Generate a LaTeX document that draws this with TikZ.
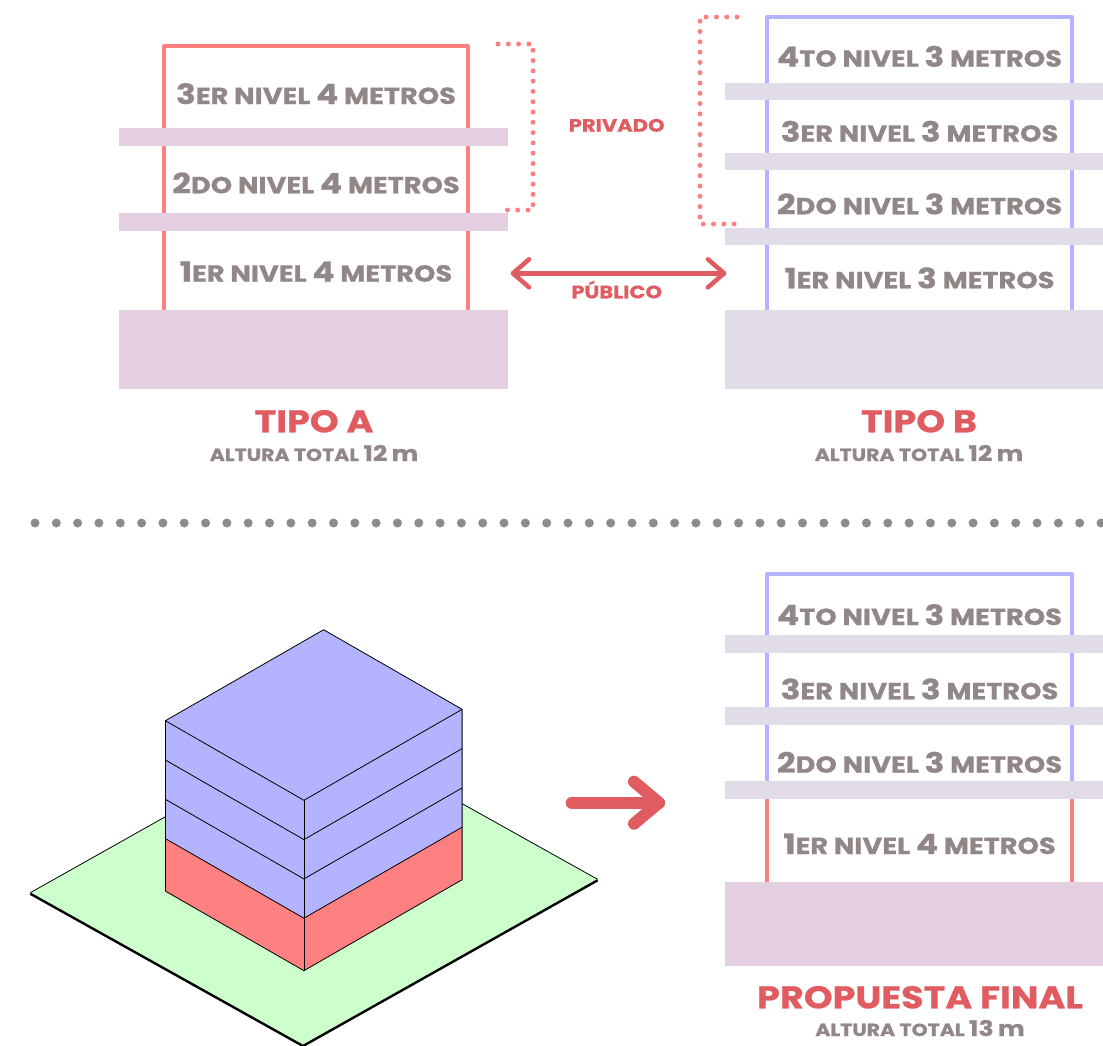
\documentclass[tikz,border=0pt]{standalone}
\usepackage{fontspec}
\setmainfont{Poppins}
\newfontfamily\lblfont{Poppins Bold}[FakeStretch=1.17,FakeBold=0.7]
\usetikzlibrary{calc}

\definecolor{txtgray}{HTML}{928787}
\definecolor{titlered}{HTML}{E05C61}
\definecolor{linered}{HTML}{FF8080}
\definecolor{lineblue}{HTML}{B3B3FF}
\definecolor{slabpink}{HTML}{E4CFE0}
\definecolor{slablav}{HTML}{E2DBE8}
\definecolor{sepgray}{HTML}{8C8C8C}
\definecolor{groundgreen}{HTML}{CCFFCC}
\definecolor{massblue}{HTML}{B3B3FF}
\definecolor{massred}{HTML}{FF8080}

% digits at full size, letters as small capitals
\newcommand\fullc[1]{{\fontsize{28}{28}\selectfont #1}}
\newcommand\fullt[1]{{\fontsize{21.5}{21.5}\selectfont #1}}

\tikzset{
  levellabel/.style={anchor=base, inner sep=0pt, text=txtgray,
    font=\lblfont\fontsize{23.3}{23.3}\selectfont},
  titlelabel/.style={anchor=base, inner sep=0pt, text=titlered,
    font=\lblfont\fontsize{31.3}{31.3}\selectfont},
  heightlabel/.style={anchor=base, inner sep=0pt, text=txtgray,
    font=\lblfont\fontsize{17.5}{17.5}\selectfont},
  zonelabel/.style={anchor=base, inner sep=0pt, text=titlered,
    font=\lblfont\fontsize{18}{18}\selectfont},
  wallred/.style={draw=linered, line width=4pt, line join=round, line cap=round},
  wallblue/.style={draw=lineblue, line width=4pt, line join=round, line cap=round},
  slabA/.style={fill=slabpink},
  slabB/.style={fill=slablav},
  dotbracket/.style={draw=linered, line width=5pt, line cap=round,
    dash pattern=on 0pt off 10.3pt},
  redarrow/.style={draw=titlered, line cap=round, line join=round},
  edge/.style={draw=black, line width=0.8pt, line join=round},
}

\begin{document}
\begin{tikzpicture}[x=1pt, y=-1pt]
\useasboundingbox (0,0) rectangle (1103,1045);
\clip (0,0) rectangle (1103,1045);

% ---------- Tipo A ----------
\draw[wallred] (164,310) -- (164,46) -- (468,46) -- (468,310);
\fill[slabA] (119,128) rectangle (508,146);
\fill[slabA] (119,213) rectangle (508,231);
\fill[slabA] (119,310) rectangle (508,389);
\node[levellabel] (a3) at (316,104) {\fullc{3}ER NIVEL \fullc{4} METROS};
\node[levellabel] (a2) at (316,193.3) {\fullc{2}DO NIVEL \fullc{4} METROS};
\node[levellabel] (a1) at (316,281.7) {\fullc{1}ER NIVEL \fullc{4} METROS};
\node[titlelabel] (ta) at (314,432.3) {TIPO A};
\node[heightlabel] (ha) at (314,461) {ALTURA TOTAL \fullt{12} \fullt{m}};

% private bracket of type A
\draw[dotbracket] (498,44) -- (533,44) -- (533,210) -- (498,210);

% ---------- Tipo B ----------
\draw[wallblue] (767,310) -- (767,17) -- (1072,17) -- (1072,310);
\fill[slabB] (725,83) rectangle (1103,100);
\fill[slabB] (725,153) rectangle (1103,170);
\fill[slabB] (725,228) rectangle (1103,245);
\fill[slabB] (725,310) rectangle (1103,389);
\node[levellabel] (b4) at (919.5,66.7) {\fullc{4}TO NIVEL \fullc{3} METROS};
\node[levellabel] (b3) at (919.5,141.7) {\fullc{3}ER NIVEL \fullc{3} METROS};
\node[levellabel] (b2) at (919.5,214.3) {\fullc{2}DO NIVEL \fullc{3} METROS};
\node[levellabel] (b1) at (919.5,288.3) {\fullc{1}ER NIVEL \fullc{3} METROS};
\node[titlelabel] (tb) at (919,432.3) {TIPO B};
\node[heightlabel] (hb) at (919,461) {ALTURA TOTAL \fullt{12} \fullt{m}};

% private bracket of type B
\draw[dotbracket] (737,17) -- (700,17) -- (700,224) -- (737,224);

% public / private between the types
\node[zonelabel] (priv) at (616.7,131.7) {PRIVADO};
\node[zonelabel] (pub) at (616.7,298.3) {PÚBLICO};
\coordinate (pl) at (513,273.3);
\coordinate (pr) at (724,273.3);
\draw[redarrow, line width=4.5pt] (pl) -- (pr);
\draw[redarrow, line width=4.5pt] ($(pl)+(16,-14)$) -- (pl) -- ($(pl)+(16,14)$);
\draw[redarrow, line width=4.5pt] ($(pr)+(-16,-14)$) -- (pr) -- ($(pr)+(-16,14)$);

% ---------- separator ----------
\foreach \i in {0,...,50}
  \fill[sepgray] (35+21.32*\i,523) circle[radius=4.5];

% ---------- isometric massing ----------
\coordinate (Gl) at (30.3,892.7);
\coordinate (Gb) at (303,1045);
\coordinate (Gr) at (597.6,879.3);
\coordinate (Gt) at (324.9,727);
\fill[groundgreen] (Gl) -- (Gb) -- (Gr) -- (Gt) -- cycle;
\draw[edge] (Gl) -- (Gt) -- (Gr);
\draw[black, line width=2.4pt, line join=round] ($(Gl)+(0,1)$) -- ($(Gb)+(0,1)$) -- ($(Gr)+(0,1)$);

\coordinate (F0) at (303.9,800.3);
\coordinate (L0) at (165.4,720.7);
\coordinate (R0) at (462.1,709.3);
\coordinate (B0) at (323.6,629.7);
\coordinate (Fb) at (303.9,970.7);
\coordinate (Lb) at (165.4,891.1);
\coordinate (Rb) at (462.1,879.7);
\coordinate (Fr) at (303.9,918.2);
\coordinate (Lr) at (165.4,838.6);
\coordinate (Rr) at (462.1,827.2);

% upper floors
\fill[massblue] (L0) -- (F0) -- (R0) -- (Rr) -- (Fr) -- (Lr) -- cycle;
% ground floor
\fill[massred] (Lr) -- (Fr) -- (Rr) -- (Rb) -- (Fb) -- (Lb) -- cycle;
% roof
\fill[massblue] (L0) -- (F0) -- (R0) -- (B0) -- cycle;
\draw[edge] (L0) -- (B0) -- (R0) -- (F0) -- cycle;
\draw[edge] (L0) -- (Lb) -- (Fb) -- (Rb) -- (R0);
\draw[edge] (F0) -- (Fb);
\foreach \d in {39.3,78.6,117.9}
  \draw[edge] ($(L0)+(0,\d)$) -- ($(F0)+(0,\d)$) -- ($(R0)+(0,\d)$);

% arrow towards the final proposal
\coordinate (as) at (571.7,802.7);
\coordinate (at) at (659,802.7);
\draw[redarrow, line width=12pt] (as) -- (at);
\draw[redarrow, line width=12pt] (634,781.7) -- (at) -- (634,823.7);

% ---------- propuesta final ----------
\draw[wallblue] (767,790) -- (767,574.3) -- (1072,574.3) -- (1072,790);
\draw[wallred] (767,790) -- (767,882);
\draw[wallred] (1072,790) -- (1072,882);
\fill[slabB] (725,635.3) rectangle (1103,652.7);
\fill[slabB] (725,707) rectangle (1103,724.7);
\fill[slabB] (725,781) rectangle (1103,798.7);
\fill[slabA] (725,882) rectangle (1103,965.7);
\node[levellabel] (p4) at (919.5,625) {\fullc{4}TO NIVEL \fullc{3} METROS};
\node[levellabel] (p3) at (919.5,699.3) {\fullc{3}ER NIVEL \fullc{3} METROS};
\node[levellabel] (p2) at (919.5,772.7) {\fullc{2}DO NIVEL \fullc{3} METROS};
\node[levellabel] (p1) at (919.5,854) {\fullc{1}ER NIVEL \fullc{4} METROS};
\node[titlelabel] (tp) at (920,1008.3) {PROPUESTA FINAL};
\node[heightlabel] (hp) at (920,1036) {ALTURA TOTAL \fullt{13} \fullt{m}};
\end{tikzpicture}
\end{document}
